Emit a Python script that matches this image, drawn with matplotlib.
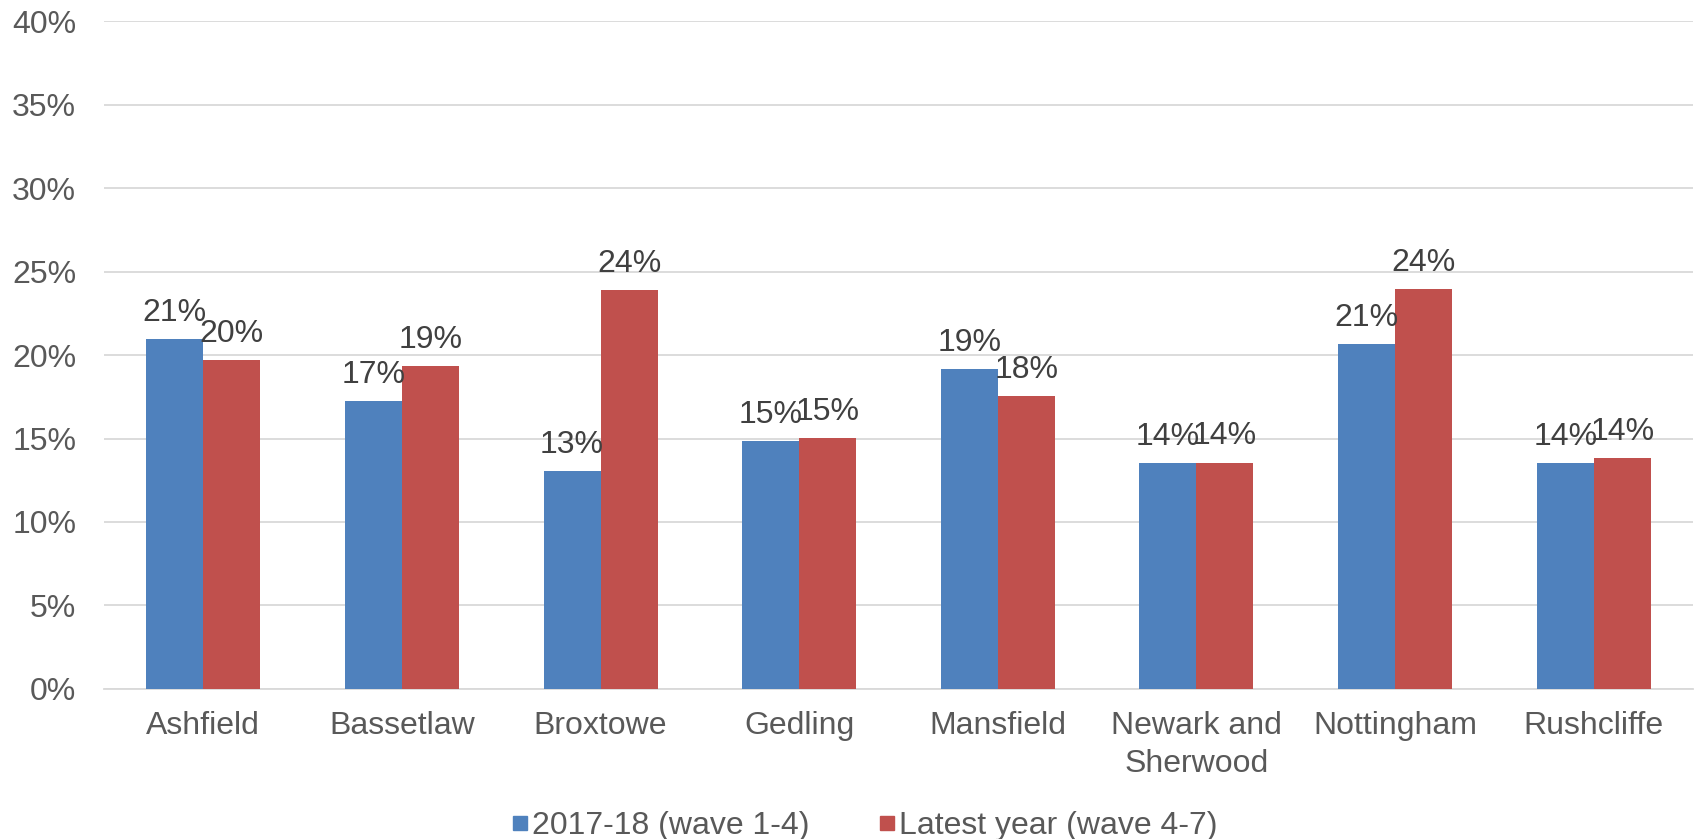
import matplotlib
matplotlib.use("Agg")
import matplotlib.pyplot as plt
import numpy as np
from matplotlib.lines import Line2D
from matplotlib.ticker import PercentFormatter

# Data
districts = ["Ashfield", "Bassetlaw", "Broxtowe", "Gedling", "Mansfield",
             "Newark and\nSherwood", "Nottingham", "Rushcliffe"]
wave_1_4 = [0.2098, 0.1723, 0.1304, 0.1485, 0.1918, 0.1352, 0.2064, 0.1352]
wave_4_7 = [0.1968, 0.1932, 0.2392, 0.1505, 0.1753, 0.1356, 0.2398, 0.1381]
series_names = ["2017-18 (wave 1-4)", "Latest year (wave 4-7)"]
y_ticks = [0.0, 0.05, 0.10, 0.15, 0.20, 0.25, 0.30, 0.35, 0.40]

BLUE = "#4F81BD"
RED = "#C0504D"
GRID = "#D9D9D9"
TICK_TXT = "#595959"
LABEL_TXT = "#404040"
FS = 23

plt.rcParams["font.family"] = ["Liberation Sans", "DejaVu Sans"]

fig = plt.figure(figsize=(16.98, 8.39), dpi=100)
ax = fig.add_axes([0.06125, 0.1791, 0.93581, 0.7953])

x = np.arange(len(districts))
width = 0.287
b1 = ax.bar(x - width / 2, wave_1_4, width, color=BLUE, label=series_names[0], zorder=3)
b2 = ax.bar(x + width / 2, wave_4_7, width, color=RED, label=series_names[1], zorder=3)

for bars, vals in ((b1, wave_1_4), (b2, wave_4_7)):
    ax.bar_label(bars, labels=[f"{v:.0%}" for v in vals], padding=8,
                 fontsize=FS, color=LABEL_TXT)

ax.set_xlim(-0.5, len(districts) - 0.5)
ax.set_ylim(0, 0.40)
ax.set_yticks(y_ticks)
ax.yaxis.set_major_formatter(PercentFormatter(1.0, decimals=0))
ax.set_xticks(x)
ax.set_xticklabels(districts, linespacing=1.35)

ax.grid(axis="y", color=GRID, linewidth=1.3, zorder=0)
ax.set_axisbelow(True)
for side in ("top", "right", "left"):
    ax.spines[side].set_visible(False)
ax.spines["bottom"].set_color(GRID)
ax.spines["bottom"].set_linewidth(1.3)

ax.tick_params(axis="y", length=0, pad=20, labelsize=FS, labelcolor=TICK_TXT)
ax.tick_params(axis="x", length=0, pad=16, labelsize=FS, labelcolor=TICK_TXT)

handles = [Line2D([], [], marker="s", linestyle="none", markersize=10,
                  color=BLUE),
           Line2D([], [], marker="s", linestyle="none", markersize=10,
                  color=RED)]
fig.legend(handles, series_names, loc="center", ncol=2,
           bbox_to_anchor=(864 / 1698, 0.015), frameon=False,
           fontsize=FS, labelcolor=TICK_TXT, handlelength=0.6,
           handletextpad=0.1, columnspacing=2.1, borderpad=0)

fig.savefig("out.png", dpi=100)
